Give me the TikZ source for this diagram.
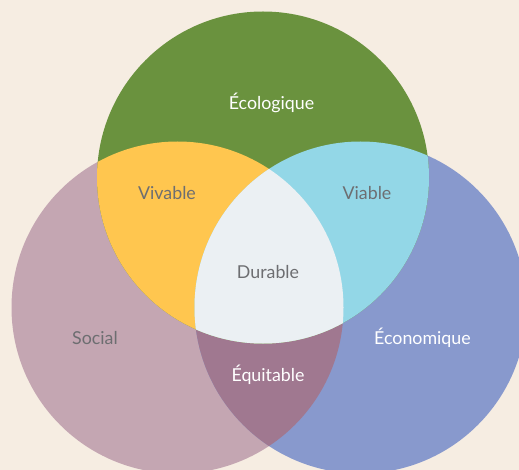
\documentclass[tikz,border=0pt]{standalone}
\usepackage{fontspec}
\setmainfont{Lato}
\usepackage{tikz}
\usepackage{xcolor}

\definecolor{bgbeige}{HTML}{F6EDE2}
\definecolor{ecogreen}{HTML}{6A923E}
\definecolor{socialpink}{HTML}{C4A6B2}
\definecolor{econblue}{HTML}{8899CD}
\definecolor{vivyellow}{HTML}{FFC64F}
\definecolor{viacyan}{HTML}{93D7E7}
\definecolor{durwhite}{HTML}{EBF0F3}
\definecolor{equimauve}{HTML}{A07890}
\definecolor{labelgrey}{HTML}{6D6E71}

\begin{document}
\begin{tikzpicture}[x=1pt, y=-1pt]
    % Define styles
    \tikzstyle{darklabel} = [text=labelgrey, font=\fontsize{17.8}{21}\selectfont, anchor=base]
    \tikzstyle{lightlabel} = [text=white, font=\fontsize{17.8}{21}\selectfont, anchor=base]

    % Canvas
    \useasboundingbox (0,0) rectangle (519,470);
    \clip (0,0) rectangle (519,470);
    \fill[bgbeige] (0,0) rectangle (519,470);

    % Circle centres
    \coordinate (eco) at (263,177.5);
    \coordinate (soc) at (177.5,307.5);
    \coordinate (econ) at (360.5,307.5);

    % Bottom circles and their overlap
    \fill[socialpink] (soc) circle (166pt);
    \fill[econblue] (econ) circle (166pt);
    \begin{scope}
        \clip (soc) circle (166pt);
        \fill[equimauve] (econ) circle (166pt);
    \end{scope}

    % Top circle and its overlaps
    \fill[ecogreen] (eco) circle (166pt);
    \begin{scope}
        \clip (eco) circle (166pt);
        \fill[vivyellow] (soc) circle (166pt);
        \fill[viacyan] (econ) circle (166pt);
        \clip (soc) circle (166pt);
        \fill[durwhite] (econ) circle (166pt);
    \end{scope}

    % Labels
    \node (ecolabel) [lightlabel] at (271.5,110) {Écologique};
    \node (vivlabel) [darklabel] at (167,200) {Vivable};
    \node (vialabel) [darklabel] at (367,200) {Viable};
    \node (durlabel) [darklabel] at (268,278) {Durable};
    \node (soclabel) [darklabel] at (95,344) {Social};
    \node (econlabel) [lightlabel] at (422.5,344) {Économique};
    \node (equilabel) [lightlabel] at (268,381) {Équitable};
\end{tikzpicture}
\end{document}
